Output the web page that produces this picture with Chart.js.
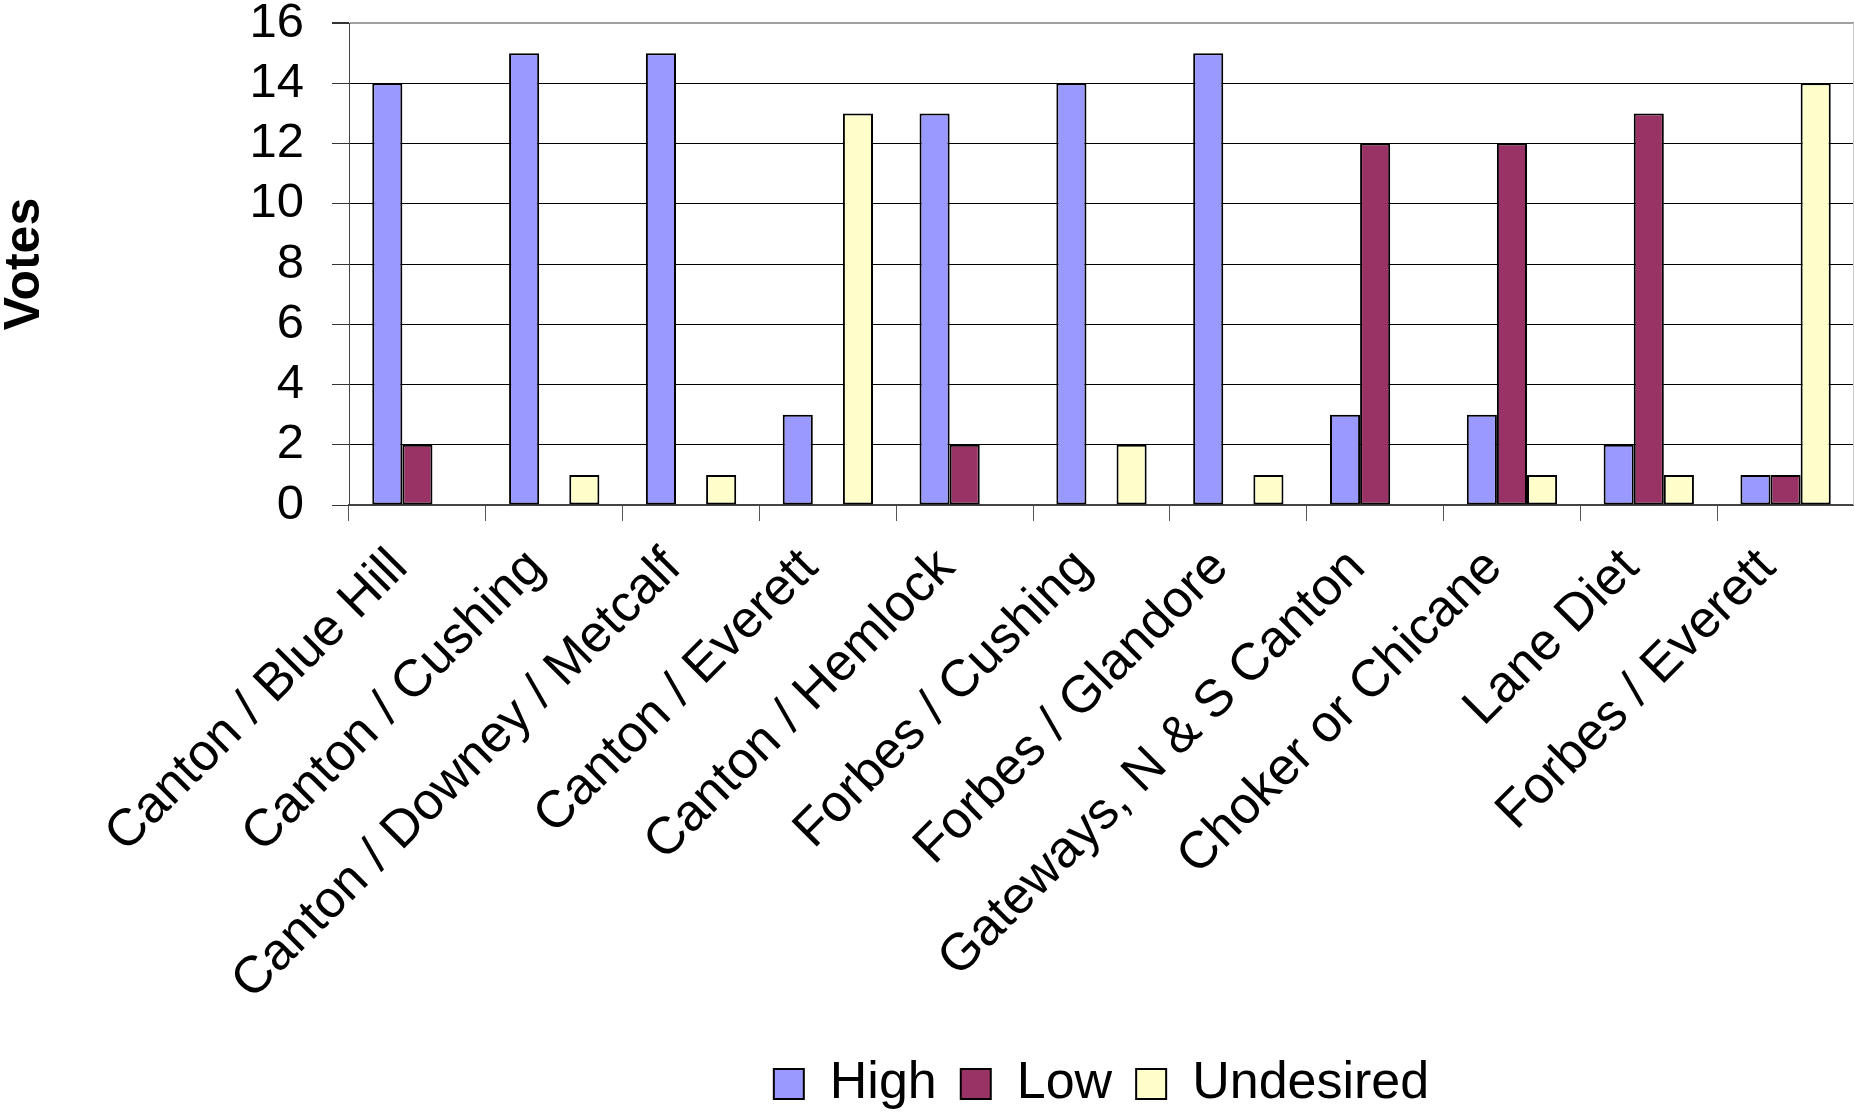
<!DOCTYPE html>
<html>
<head>
<meta charset="utf-8">
<title>Votes by location</title>
<script src="https://cdn.jsdelivr.net/npm/chart.js@4.4.1/dist/chart.umd.min.js"></script>
<style>
  html, body { margin: 0; padding: 0; background: #ffffff; }
  #wrap { width: 1854px; height: 1115px; position: relative; }
</style>
</head>
<body>
<div id="wrap"><canvas id="chart" width="1854" height="1115"></canvas></div>
<script>
// Categories (intersections / treatments)
const categories = [
  'Canton / Blue Hill',
  'Canton / Cushing',
  'Canton / Downey / Metcalf',
  'Canton / Everett',
  'Canton / Hemlock',
  'Forbes / Cushing',
  'Forbes / Glandore',
  'Gateways, N & S Canton',
  'Choker or Chicane',
  'Lane Diet',
  'Forbes / Everett'
];

// Vote counts per series
const highVotes      = [14, 15, 15, 3, 13, 14, 15, 3, 3, 2, 1];
const lowVotes       = [2, 0, 0, 0, 2, 0, 0, 12, 12, 13, 1];
const undesiredVotes = [0, 1, 1, 13, 0, 2, 1, 0, 1, 1, 14];

// Y axis ticks
const yTicks = [0, 2, 4, 6, 8, 10, 12, 14, 16];

const FONT = "'Liberation Sans', Arial, Helvetica, sans-serif";

// Light frame line on the right side of the plot area
const plotFrame = {
  id: 'plotFrame',
  afterDatasetsDraw(chart) {
    const { ctx, chartArea } = chart;
    ctx.save();
    ctx.strokeStyle = '#c8c8c8';
    ctx.lineWidth = 1;
    ctx.beginPath();
    ctx.moveTo(chartArea.right - 0.5, chartArea.top);
    ctx.lineTo(chartArea.right - 0.5, chartArea.bottom);
    ctx.stroke();
    ctx.restore();
  }
};

new Chart(document.getElementById('chart'), {
  type: 'bar',
  data: {
    labels: categories,
    datasets: [
      { label: 'High', data: highVotes, backgroundColor: '#9999ff', borderColor: '#000000', borderWidth: 2 },
      { label: 'Low', data: lowVotes, backgroundColor: '#993366', borderColor: '#000000', borderWidth: 2 },
      { label: 'Undesired', data: undesiredVotes, backgroundColor: '#ffffcc', borderColor: '#000000', borderWidth: 2 }
    ]
  },
  options: {
    responsive: false,
    animation: false,
    layout: { padding: { top: 23, right: 0, bottom: -5, left: 0 } },
    datasets: {
      bar: { categoryPercentage: 0.66, barPercentage: 1.0, borderSkipped: false }
    },
    scales: {
      x: {
        grid: {
          offset: true,
          drawOnChartArea: false,
          drawTicks: true,
          tickLength: 16,
          tickColor: '#555555'
        },
        border: { color: '#444444', width: 2 },
        ticks: {
          autoSkip: false,
          minRotation: 45,
          maxRotation: 45,
          padding: 20,
          labelOffset: -18,
          color: '#000000',
          font: { family: FONT, size: 52, lineHeight: 1.0 }
        },
        afterFit(scale) { scale.height = 529; }
      },
      y: {
        min: 0,
        max: 16,
        afterBuildTicks(scale) { scale.ticks = yTicks.map(v => ({ value: v })); },
        grid: {
          color: c => (c.tick && c.tick.value === 16 ? '#a0a0a0' : '#000000'),
          lineWidth: c => (c.tick && c.tick.value === 16 ? 2 : 1),
          drawTicks: true,
          tickLength: 17,
          tickColor: '#333333'
        },
        border: { color: '#444444', width: 1 },
        ticks: {
          padding: 28,
          color: '#000000',
          font: { family: FONT, size: 49, lineHeight: 0.9 }
        },
        title: {
          display: true,
          text: 'Votes',
          color: '#000000',
          padding: 0,
          font: { family: FONT, size: 50, weight: 'bold', lineHeight: 1.0 }
        },
        afterFit(scale) {
          scale.width = 349;
          scale.paddingTop = 0;
          scale.paddingBottom = 0;
        }
      }
    },
    plugins: {
      legend: {
        position: 'bottom',
        fullSize: false,
        labels: {
          boxWidth: 30,
          boxHeight: 30,
          padding: 24,
          color: '#000000',
          font: { family: FONT, size: 52 }
        }
      },
      tooltip: { enabled: false }
    }
  },
  plugins: [plotFrame]
});
</script>
</body>
</html>
